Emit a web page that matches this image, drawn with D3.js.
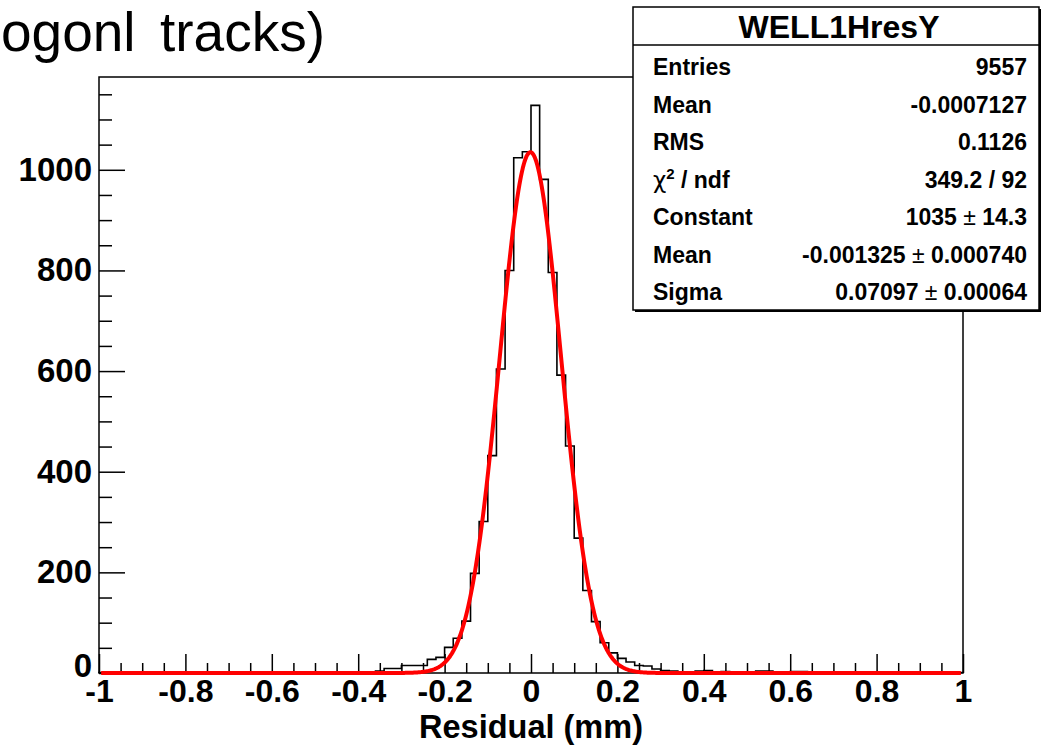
<!DOCTYPE html>
<html>
<head>
<meta charset="utf-8">
<script src="https://cdn.jsdelivr.net/npm/d3@7"></script>
<style>
  html, body { margin: 0; padding: 0; background: #ffffff; }
  svg { display: block; }
  text { font-family: "Liberation Sans", Arial, Helvetica, sans-serif; }
</style>
</head>
<body>
<svg id="chart" width="1041" height="746"></svg>
<script>
// ---------------- data ----------------
const histRange = [-1, 1];
const binWidth = 0.02;
// bin contents, 100 bins from -1 to 1
const binCounts = [
  1, 1, 1, 0, 1, 2, 2, 1, 2, 2,
  1, 1, 1, 0, 1, 1, 2, 2, 0, 1,
  1, 1, 0, 1, 2, 2, 2, 2, 2, 2,
  1, 1, 4, 9, 9, 15, 15, 15, 27, 31,
  51, 69, 103, 198, 301, 432, 604, 800, 1024, 1036,
  1128, 981, 796, 592, 451, 268, 164, 102, 60, 40,
  29, 22, 15, 14, 8, 5, 4, 2, 2, 4,
  5, 2, 3, 1, 2, 1, 4, 4, 1, 0,
  3, 3, 2, 2, 1, 2, 1, 2, 1, 1,
  1, 1, 2, 1, 1, 1, 2, 1, 1, 1
];
const xTicks = [-1, -0.8, -0.6, -0.4, -0.2, 0, 0.2, 0.4, 0.6, 0.8, 1];
const yTicks = [0, 200, 400, 600, 800, 1000];
const fitParams = { constant: 1035, mean: -0.001325, sigma: 0.07097 };
const statsTitle = "WELL1HresY";
const statsLabels = ["Entries", "Mean", "RMS", "CHI", "Constant", "Mean", "Sigma"];
const statsValues = [
  ["9557"],
  ["-0.0007127"],
  ["0.1126"],
  ["349.2 / 92"],
  ["1035", "14.3"],
  ["-0.001325", "0.000740"],
  ["0.07097", "0.00064"]
];
const titleWords = ["ogonl", "tracks)"];
const xTitle = "Residual (mm)";

// ---------------- layout ----------------
const svg = d3.select("#chart");
const frame = { left: 99, right: 963, top: 77, bottom: 673 };
const yMax = d3.max(binCounts) * 1.05;

const x = d3.scaleLinear().domain(histRange).range([frame.left, frame.right]);
const y = d3.scaleLinear().domain([0, yMax]).range([frame.bottom, frame.top]);

// title (partially out of canvas in the original)
const title = svg.append("text")
  .attr("y", 51)
  .style("font-size", "55px")
  .style("font-weight", "normal")
  .attr("fill", "#000");
title.append("tspan").attr("x", 1).text(titleWords[0]);
title.append("tspan").attr("x", 160).text(titleWords[1]);

// frame
const axisColor = "#000";
svg.append("rect")
  .attr("x", frame.left).attr("y", frame.top)
  .attr("width", frame.right - frame.left).attr("height", frame.bottom - frame.top)
  .attr("fill", "none").attr("stroke", axisColor).attr("stroke-width", 1.5);

// minor ticks
const xMinor = d3.range(-1, 1.0001, 0.05).filter(v => !xTicks.some(t => Math.abs(t - v) < 1e-9));
const yMinor = d3.range(0, yMax, 50).filter(v => v % 200 !== 0);

const xMinorAxis = d3.axisBottom(x).tickValues(xMinor).tickSize(-10).tickFormat("");
svg.append("g").attr("transform", `translate(0,${frame.bottom})`).call(xMinorAxis)
  .call(g => g.select(".domain").remove())
  .call(g => g.selectAll("line").attr("stroke", axisColor).attr("stroke-width", 1.5));

const yMinorAxis = d3.axisLeft(y).tickValues(yMinor).tickSize(-13).tickFormat("");
svg.append("g").attr("transform", `translate(${frame.left},0)`).call(yMinorAxis)
  .call(g => g.select(".domain").remove())
  .call(g => g.selectAll("line").attr("stroke", axisColor).attr("stroke-width", 1.5));

// major axes
const xAxis = d3.axisBottom(x).tickValues(xTicks).tickSize(-19).tickPadding(6)
  .tickFormat(d => String(d));
svg.append("g").attr("transform", `translate(0,${frame.bottom})`).call(xAxis)
  .call(g => g.select(".domain").remove())
  .call(g => g.selectAll("line").attr("stroke", axisColor).attr("stroke-width", 1.5))
  .call(g => g.selectAll("text")
    .attr("fill", "#000")
    .style("font-size", "32px").style("font-weight", "bold")
    .style("font-family", "'Liberation Sans', Arial, sans-serif"));

const yAxis = d3.axisLeft(y).tickValues(yTicks).tickSize(-26).tickPadding(7)
  .tickFormat(d => String(d));
svg.append("g").attr("transform", `translate(${frame.left},0)`).call(yAxis)
  .call(g => g.select(".domain").remove())
  .call(g => g.selectAll("line").attr("stroke", axisColor).attr("stroke-width", 1.5))
  .call(g => g.selectAll("text")
    .attr("fill", "#000")
    .attr("dy", d => d === 0 ? "0.12em" : "0.32em")
    .style("font-size", "33px").style("font-weight", "bold")
    .style("font-family", "'Liberation Sans', Arial, sans-serif"));

// x title
svg.append("text")
  .attr("x", x(0)).attr("y", 738)
  .attr("text-anchor", "middle")
  .style("font-size", "32.5px").style("font-weight", "bold")
  .attr("fill", "#000")
  .text(xTitle);

// histogram outline (step)
const stepPts = [[histRange[0], 0]];
binCounts.forEach((c, i) => {
  const lo = histRange[0] + i * binWidth;
  stepPts.push([lo, c]);
  stepPts.push([lo + binWidth, c]);
});
stepPts.push([histRange[1], 0]);
const stepLine = d3.line().x(d => x(d[0])).y(d => y(d[1]));
svg.append("path")
  .attr("d", stepLine(stepPts))
  .attr("fill", "none").attr("stroke", "#000").attr("stroke-width", 1.6)
  .attr("stroke-linejoin", "miter");

// gaussian fit curve
const gauss = v => fitParams.constant *
  Math.exp(-0.5 * Math.pow((v - fitParams.mean) / fitParams.sigma, 2));
const fitX = d3.range(-0.995, 0.9951, 0.002);
const fitLine = d3.line().x(d => x(d)).y(d => y(gauss(d)));
svg.append("path")
  .attr("d", fitLine(fitX))
  .attr("fill", "none").attr("stroke", "#ff0000").attr("stroke-width", 4)
  .attr("stroke-linejoin", "round");

// stats box
const box = { x: 633, y: 7, w: 406, h: 303, headerH: 38 };
svg.append("rect")
  .attr("x", box.x + 2).attr("y", box.y + 2)
  .attr("width", box.w).attr("height", box.h)
  .attr("fill", "#000");
svg.append("rect")
  .attr("x", box.x).attr("y", box.y)
  .attr("width", box.w).attr("height", box.h)
  .attr("fill", "#fff").attr("stroke", "#000").attr("stroke-width", 1.5);
svg.append("line")
  .attr("x1", box.x).attr("x2", box.x + box.w)
  .attr("y1", box.y + box.headerH).attr("y2", box.y + box.headerH)
  .attr("stroke", "#000").attr("stroke-width", 1.5);
svg.append("text")
  .attr("x", 839).attr("y", 38)
  .attr("text-anchor", "middle")
  .style("font-size", "32px").style("font-weight", "bold")
  .attr("fill", "#000")
  .text(statsTitle);

const rowBase = 75, rowStep = 37.5;
statsLabels.forEach((lab, i) => {
  const t = svg.append("text")
    .attr("x", 653).attr("y", rowBase + i * rowStep)
    .style("font-size", "23px").style("font-weight", "bold")
    .attr("fill", "#000");
  if (lab === "CHI") {
    t.append("tspan").style("font-weight", "normal")
      .style("font-family", "'DejaVu Sans', sans-serif").text("\u03C7");
    t.append("tspan").attr("dy", -9).style("font-size", "15px").text("2");
    t.append("tspan").attr("dy", 9).text(" / ndf");
  } else {
    t.text(lab);
  }
  const v = svg.append("text")
    .attr("x", 1027).attr("y", rowBase + i * rowStep)
    .attr("text-anchor", "end")
    .style("font-size", "23px").style("font-weight", "bold")
    .attr("fill", "#000");
  const vals = statsValues[i];
  v.append("tspan").text(vals[0]);
  if (vals.length > 1) {
    v.append("tspan").style("font-weight", "normal").text(" \u00B1 ");
    v.append("tspan").text(vals[1]);
  }
});
</script>
</body>
</html>
